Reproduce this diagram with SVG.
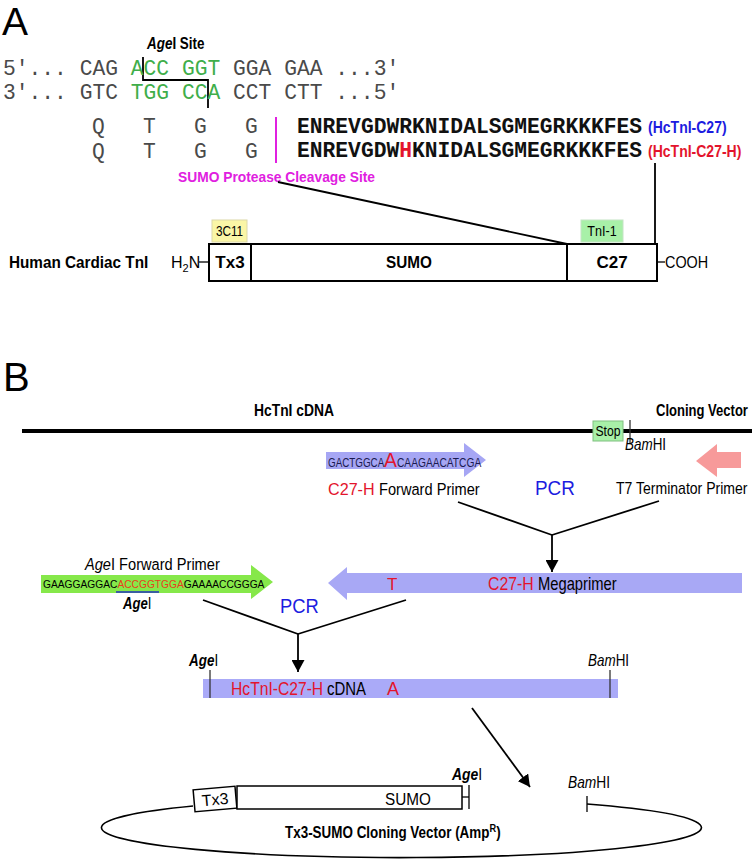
<svg xmlns="http://www.w3.org/2000/svg" width="756" height="859" viewBox="0 0 756 859">
<defs>
<style>
.s{font-family:"Liberation Sans",Arial,sans-serif;}
.m{font-family:"Liberation Mono","Courier New",monospace;font-size:21.3px;}
.b{font-weight:bold;}
.i{font-style:italic;}
.red{fill:#e3142c;}
.blue{fill:#1c1ce0;}
.grn{fill:#3fae4a;}
.gray{fill:#4a4a4a;}
.ln{stroke:#000;stroke-width:1.8;fill:none;}
.box{fill:#fff;stroke:#000;stroke-width:2;}
.tick{stroke:#333;stroke-width:1.3;}
</style>
<marker id="ah" viewBox="0 0 12 13" refX="12" refY="6.5" markerWidth="12" markerHeight="13" markerUnits="userSpaceOnUse" orient="auto"><path d="M0,0 L12,6.5 L0,13 z" fill="#000"/></marker>
</defs>
<rect width="756" height="859" fill="#fff"/>

<!-- Panel A -->
<text class="s" x="2" y="35" font-size="39">A</text>

<g id="ageI-site">
<text class="s b" transform="translate(147,49) scale(0.84,1)" font-size="16"><tspan class="i">Age</tspan>I Site</text>
<polyline class="ln" points="143,57 143,80 208,80 208,108"/>
</g>

<g id="dna">
<text class="m gray" x="3" y="75">5'... CAG <tspan class="grn">ACC GGT</tspan> GGA GAA ...3'</text>
<text class="m gray" x="3" y="99">3'... GTC <tspan class="grn">TGG CCA</tspan> CCT CTT ...5'</text>
</g>

<g id="aa-seq">
<text class="m gray" y="133"><tspan x="92">Q</tspan><tspan x="143">T</tspan><tspan x="194">G</tspan><tspan x="245">G</tspan></text>
<text class="m gray" y="158"><tspan x="92">Q</tspan><tspan x="143">T</tspan><tspan x="194">G</tspan><tspan x="245">G</tspan></text>
<line x1="276" y1="117" x2="276" y2="163" stroke="#e020e0" stroke-width="2"/>
<text class="m b" x="297" y="133" fill="#111">ENREVGDWRKNIDALSGMEGRKKKFES</text>
<text class="m b" x="297" y="157" fill="#111">ENREVGDW<tspan class="red">H</tspan>KNIDALSGMEGRKKKFES</text>
<text class="s b blue" transform="translate(648,133) scale(0.85,1)" font-size="16.5">(HcTnI-C27)</text>
<text class="s b red" transform="translate(648,157) scale(0.85,1)" font-size="16.5">(HcTnI-C27-H)</text>
<text class="s b" transform="translate(178,182) scale(0.92,1)" font-size="15" fill="#e020e0">SUMO Protease Cleavage Site</text>
</g>

<g id="protein-map">
<text class="s b" transform="translate(9,268) scale(0.9,1)" font-size="17">Human Cardiac TnI</text>
<text class="s" x="171" y="268" font-size="16">H<tspan font-size="11" dy="4">2</tspan><tspan dy="-4">N</tspan></text>
<line x1="199" y1="262" x2="209" y2="262" stroke="#000" stroke-width="1.3"/>
<rect class="box" x="209" y="244" width="448" height="37"/>
<line x1="251" y1="244" x2="251" y2="281" stroke="#000" stroke-width="2"/>
<line x1="567" y1="244" x2="567" y2="281" stroke="#000" stroke-width="2"/>
<text class="s b" x="230" y="268" font-size="17" text-anchor="middle">Tx3</text>
<text class="s b" transform="translate(409,268) scale(0.9,1)" font-size="17" text-anchor="middle">SUMO</text>
<text class="s b" x="612" y="268" font-size="17" text-anchor="middle">C27</text>
<line x1="657" y1="262" x2="665" y2="262" stroke="#000" stroke-width="1.3"/>
<text class="s" transform="translate(665,268) scale(0.9,1)" font-size="16">COOH</text>
<rect x="212" y="220" width="35" height="22" fill="#faf6a6" stroke="#dcd8a8" stroke-width="1"/>
<text class="s" transform="translate(229.5,236) scale(0.84,1)" font-size="14" text-anchor="middle">3C11</text>
<rect x="581" y="220" width="42" height="22" fill="#a8f0a8" stroke="#c4e4c4" stroke-width="1"/>
<text class="s" transform="translate(602,236) scale(0.9,1)" font-size="14" text-anchor="middle">TnI-1</text>
</g>

<!-- Panel B -->
<text class="s" x="3" y="391" font-size="40">B</text>

<g id="cdna-template">
<text class="s b" transform="translate(254,416) scale(0.84,1)" font-size="16.5">HcTnI cDNA</text>
<text class="s b" transform="translate(656,416) scale(0.79,1)" font-size="16.5">Cloning Vector</text>
<line x1="22" y1="431" x2="752" y2="431" stroke="#000" stroke-width="4"/>
<rect x="593" y="421" width="30" height="20" fill="#a8f0a8" stroke="#80c080" stroke-width="1"/>
<text class="s" transform="translate(608,436) scale(0.87,1)" font-size="14" text-anchor="middle">Stop</text>
<line class="tick" x1="630" y1="420" x2="630" y2="443" stroke-width="1.6"/>
<text class="s" transform="translate(625,450) scale(0.84,1)" font-size="16"><tspan class="i">Bam</tspan>HI</text>
</g>

<g id="c27h-forward-primer">
<polygon points="326,452 464,452 464,443 486,460 464,477 464,469 326,469" fill="#a6a6f4"/>
<text class="s" transform="translate(328,467) scale(0.82,1)" font-size="12" fill="#1a1a50">GACTGGCA</text>
<text class="s" transform="translate(384,467) scale(0.97,1)" font-size="20" fill="#e3142c">A</text>
<text class="s" transform="translate(397,467) scale(0.85,1)" font-size="12" fill="#1a1a50">CAAGAACATCGA</text>
<text class="s red" transform="translate(328,495) scale(0.95,1)" font-size="17">C27-H</text>
<text class="s" transform="translate(379,495) scale(0.86,1)" font-size="17">Forward Primer</text>
</g>

<g id="t7-primer">
<polygon points="741,452 717,452 717,444 696,461 717,477 717,468 741,468" fill="#f79a9a"/>
<text class="s" transform="translate(616,494) scale(0.826,1)" font-size="17">T7 Terminator Primer</text>
</g>

<text id="pcr1" class="s blue" transform="translate(535,495) scale(0.9,1)" font-size="21">PCR</text>

<g id="ageI-forward-primer">
<text class="s" transform="translate(85,570) scale(0.86,1)" font-size="17"><tspan class="i">Age</tspan>I Forward Primer</text>
<polygon points="41,575 251,575 251,565 273,582 251,599 251,593 41,593" fill="#86e84a"/>
<text class="s" transform="translate(43,588) scale(0.93,1)" font-size="11">GAAGGAGGAC<tspan fill="#e8401c">ACCGGTGGA</tspan>GAAAACCGGGA</text>
<line x1="116" y1="592" x2="159" y2="592" stroke="#2030c0" stroke-width="1.5"/>
<text class="s" transform="translate(123,609) scale(0.82,1)" font-size="16"><tspan class="i" font-weight="bold">Age</tspan>I</text>
</g>

<g id="megaprimer">
<polygon points="742,573 347,573 347,567 328,583 347,600 347,593 742,593" fill="#a8a8f5"/>
<text class="s red" x="387" y="590" font-size="17">T</text>
<text class="s red" transform="translate(488,590) scale(0.88,1)" font-size="18">C27-H</text>
<text class="s" transform="translate(538,590) scale(0.82,1)" font-size="18">Megaprimer</text>
</g>

<text id="pcr2" class="s blue" transform="translate(280,613) scale(0.92,1)" font-size="20">PCR</text>

<g id="hctni-c27h-cdna">
<rect x="203" y="679" width="415" height="19" fill="#aaaaf8"/>
<line class="tick" x1="210" y1="670" x2="210" y2="698"/>
<line class="tick" x1="610" y1="670" x2="610" y2="698"/>
<text class="s" transform="translate(189,666) scale(0.84,1)" font-size="16"><tspan class="i" font-weight="bold">Age</tspan>I</text>
<text class="s" transform="translate(588,666) scale(0.84,1)" font-size="16"><tspan class="i">Bam</tspan>HI</text>
<text class="s red" transform="translate(231,695) scale(0.87,1)" font-size="18">HcTnI-C27-H</text>
<text class="s" transform="translate(327,695) scale(0.83,1)" font-size="18">cDNA</text>
<text class="s red" x="387" y="695" font-size="18">A</text>
</g>

<g id="cloning-vector">
<path d="M587,804 A300,30 0 1 1 193,806" fill="none" stroke="#000" stroke-width="1.6"/>
<g transform="rotate(-5 215 799)">
<rect x="194" y="788" width="42" height="22" fill="#fff" stroke="#000" stroke-width="1.5"/>
<text class="s" x="215" y="805" font-size="16" text-anchor="middle">Tx3</text>
</g>
<rect x="237" y="786" width="225" height="23" fill="#fff" stroke="#000" stroke-width="1.5"/>
<text class="s" transform="translate(385,805) scale(0.9,1)" font-size="17">SUMO</text>
<line x1="462" y1="797" x2="469" y2="797" stroke="#000" stroke-width="1.3"/>
<line x1="469" y1="785" x2="469" y2="809" stroke="#000" stroke-width="1.3"/>
<text class="s" transform="translate(452,780) scale(0.87,1)" font-size="16"><tspan class="i" font-weight="bold">Age</tspan>I</text>
<text class="s" transform="translate(568,788) scale(0.86,1)" font-size="16"><tspan class="i">Bam</tspan>HI</text>
<line x1="587" y1="796" x2="587" y2="812" stroke="#000" stroke-width="1.3"/>
<text class="s b" transform="translate(285,838) scale(0.84,1)" font-size="16">Tx3-SUMO Cloning Vector (Amp<tspan font-size="11" dy="-6">R</tspan><tspan dy="6">)</tspan></text>
</g>

<g id="connectors">
<line class="ln" x1="278" y1="182" x2="567" y2="244"/>
<line class="ln" x1="655" y1="163" x2="655" y2="244"/>
<line class="ln" x1="458" y1="502" x2="552" y2="535"/>
<line class="ln" x1="659" y1="501" x2="552" y2="535"/>
<line class="ln" x1="552" y1="535" x2="552" y2="572" marker-end="url(#ah)"/>
<line class="ln" x1="203" y1="600" x2="298" y2="634"/>
<line class="ln" x1="406" y1="600" x2="298" y2="634"/>
<line class="ln" x1="298" y1="634" x2="298" y2="672" marker-end="url(#ah)"/>
<line class="ln" x1="472" y1="708" x2="530" y2="787" marker-end="url(#ah)"/>
</g>
</svg>
